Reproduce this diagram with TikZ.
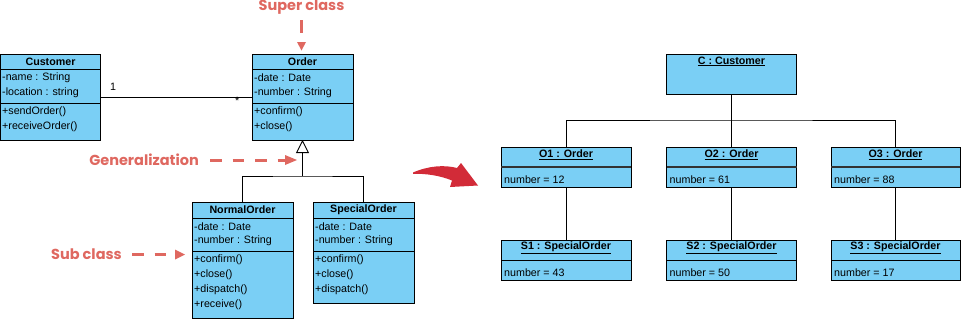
\documentclass[tikz,border=0pt]{standalone}
\usepackage{fontspec}
\setmainfont{Liberation Sans}
\newfontfamily\labfont{Poppins}
\usetikzlibrary{arrows.meta}
\definecolor{boxblue}{RGB}{122,207,245}
\definecolor{labred}{RGB}{223,104,96}
\definecolor{arrred}{RGB}{210,43,56}
\definecolor{divgray}{RGB}{50,50,50}
\tikzset{
  cls/.style={draw=black, fill=boxblue, line width=0.9pt, anchor=north west, inner sep=0pt, outer sep=0pt},
  txt/.style={anchor=west, inner sep=0pt, font=\fontsize{10.7}{12}\selectfont},
  hdr/.style={inner sep=0pt, font=\bfseries\fontsize{10.7}{12}\selectfont},
  conn/.style={line width=0.9pt},
  divl/.style={line width=0.9pt},
  odiv/.style={line width=1.8pt, draw=divgray},
  lab/.style={text=labred, font=\labfont\bfseries\fontsize{14.5}{16}\selectfont, inner sep=0pt},
  reddash/.style={draw=labred, line width=3pt, dash pattern=on 11.5pt off 11pt},
  redhead/.style={fill=labred, draw=none},
}
\begin{document}
\begin{tikzpicture}[x=1pt,y=-1pt]
\useasboundingbox (0,0) rectangle (961,319);

% ---------- Customer ----------
\node[cls, minimum width=100pt, minimum height=86pt] (cust) at (0.5,54) {};
\draw[divl] (0.5,69) -- (100.5,69);
\draw[divl] (0.5,103) -- (100.5,103);
\node[hdr] (custh) at (50.5,61.5) {Customer};
\node[txt] (cust1) at (2,78) {-name : String};
\node[txt] (cust2) at (2,93) {-location : string};
\node[txt] (cust3) at (2,112) {+sendOrder()};
\node[txt] (cust4) at (2,127) {+receiveOrder()};

% ---------- Order ----------
\node[cls, minimum width=101pt, minimum height=86pt] (ord) at (252,54) {};
\draw[divl] (252,69) -- (353,69);
\draw[divl] (252,103) -- (353,103);
\node[hdr] (ordh) at (302.5,61.5) {Order};
\node[txt] (ord1) at (254,78) {-date : Date};
\node[txt] (ord2) at (254,93) {-number : String};
\node[txt] (ord3) at (254,112) {+confirm()};
\node[txt] (ord4) at (254,127) {+close()};

% ---------- NormalOrder ----------
\node[cls, minimum width=101pt, minimum height=116pt] (nor) at (192,202) {};
\draw[divl] (192,218) -- (293,218);
\draw[divl] (192,251) -- (293,251);
\node[hdr] (norh) at (242.5,210) {NormalOrder};
\node[txt] (nor1) at (194,226.5) {-date : Date};
\node[txt] (nor2) at (194,241) {-number : String};
\node[txt] (nor3) at (194,260) {+confirm()};
\node[txt] (nor4) at (194,275) {+close()};
\node[txt] (nor5) at (194,290) {+dispatch()};
\node[txt] (nor6) at (194,305) {+receive()};

% ---------- SpecialOrder ----------
\node[cls, minimum width=101pt, minimum height=101pt] (spe) at (313,202) {};
\draw[divl] (313,218) -- (414,218);
\draw[divl] (313,251) -- (414,251);
\node[hdr] (speh) at (363.5,210) {SpecialOrder};
\node[txt] (spe1) at (315,226.5) {-date : Date};
\node[txt] (spe2) at (315,241) {-number : String};
\node[txt] (spe3) at (315,260) {+confirm()};
\node[txt] (spe4) at (315,275) {+close()};
\node[txt] (spe5) at (315,290) {+dispatch()};

% ---------- association ----------
\draw[conn] (cust.east) -- (ord.west);
\node[txt] (m1) at (110,87) {1};
\node[txt] (m2) at (235,101) {*};

% ---------- generalization ----------
\coordinate (gj) at (302.5,176);
\draw[conn] (nor.north) |- (gj) -| (spe.north);
\draw[conn, -{Triangle[open, length=13pt, width=13pt, fill=white]}] (gj) -- (ord.south);

% ---------- red labels ----------
\node[lab] (lsuper) at (301.5,7) {Super class};
\coordinate (sa1) at (301.5,20);
\draw[draw=labred, line width=3pt] (sa1) -- (301.5,33);
\fill[redhead] (297,42) -- (306,42) -- (301.5,50.5) -- cycle;

\node[lab, anchor=east] (lgen) at (199,160) {Generalization};
\draw[reddash] (210,160) -- (288,160);
\fill[redhead] (285,155) -- (297,160) -- (285,165) -- cycle;

\node[lab, anchor=east] (lsub) at (122,254.5) {Sub class};
\draw[reddash] (132,254.5) -- (178,254.5);
\fill[redhead] (175,249.5) -- (185,254.5) -- (175,259.5) -- cycle;

% ---------- big red arrow ----------
\fill[arrred] (413,172.5) .. controls (428,166) and (444,164.5) .. (457,168)
  -- (461,163) -- (478,185.5) -- (450,187) -- (452,180.5)
  .. controls (440,175.5) and (426,173.5) .. (413,173.8) -- cycle;

% ---------- object diagram ----------
\node[cls, minimum width=130pt, minimum height=40pt] (oc) at (666.5,54) {};
\node[hdr] (och) at (731.5,61.5) {\underline{C : Customer}};

\node[cls, minimum width=130pt, minimum height=40pt] (o1) at (501,147) {};
\draw[odiv] (501,167) -- (631,167);
\node[hdr] (o1h) at (566,155) {\underline{O1 : Order}};
\node[txt] (o1a) at (504,179.5) {number = 12};

\node[cls, minimum width=130pt, minimum height=40pt] (o2) at (666.5,147) {};
\draw[odiv] (666.5,167) -- (796.5,167);
\node[hdr] (o2h) at (731.5,155) {\underline{O2 : Order}};
\node[txt] (o2a) at (669.5,179.5) {number = 61};

\node[cls, minimum width=129pt, minimum height=40pt] (o3) at (831,147) {};
\draw[odiv] (831,167) -- (960,167);
\node[hdr] (o3h) at (895.5,155) {\underline{O3 : Order}};
\node[txt] (o3a) at (834,179.5) {number = 88};

\node[cls, minimum width=130pt, minimum height=40pt] (s1) at (501,240) {};
\draw[divl] (501,260) -- (631,260);
\node[hdr] (s1h) at (566,248) {\underline{S1 : SpecialOrder}};
\node[txt] (s1a) at (504,272.5) {number = 43};

\node[cls, minimum width=130pt, minimum height=40pt] (s2) at (666.5,240) {};
\draw[divl] (666.5,260) -- (796.5,260);
\node[hdr] (s2h) at (731.5,248) {\underline{S2 : SpecialOrder}};
\node[txt] (s2a) at (669.5,272.5) {number = 50};

\node[cls, minimum width=129pt, minimum height=40pt] (s3) at (831,240) {};
\draw[divl] (831,260) -- (960,260);
\node[hdr] (s3h) at (895.5,248) {\underline{S3 : SpecialOrder}};
\node[txt] (s3a) at (834,272.5) {number = 17};

\coordinate (tj) at (731.5,120);
\draw[conn] (oc.south) -- (tj);
\draw[conn] (o1.north) |- (tj) -| (o3.north);
\draw[conn] (tj) -- (o2.north);
\draw[conn] (o1.south) -- (s1.north);
\draw[conn] (o2.south) -- (s2.north);
\draw[conn] (o3.south) -- (s3.north);
\end{tikzpicture}
\end{document}
